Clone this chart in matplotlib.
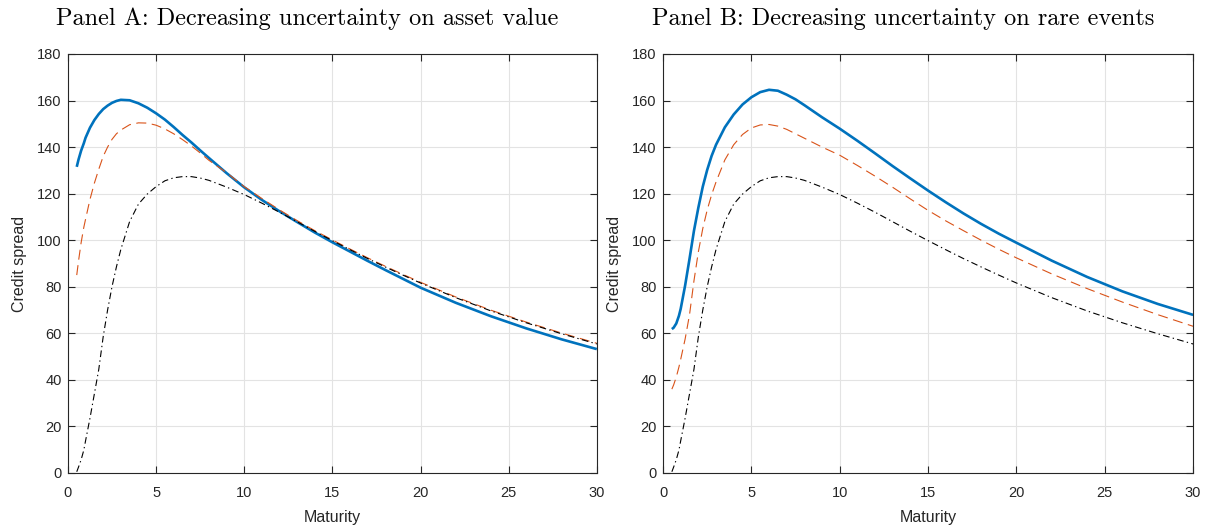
import matplotlib.pyplot as plt
import numpy as np

# maturities (years)
maturity = [0.5, 0.6, 0.75, 0.9, 1, 1.25, 1.5, 1.75, 2, 2.25, 2.5, 2.75, 3, 3.5, 4, 4.5, 5, 5.5,
            6, 6.5, 7, 7.5, 8, 9, 10, 11, 12, 13, 14, 15, 16, 17, 18, 19, 20,
            22, 24, 26, 28, 30]

# Panel A: decreasing uncertainty on asset value
a_high = [131.5, 134.6, 138.5, 141.6, 144, 148.3, 151.6, 154.2, 156.3, 157.8, 159, 159.8, 160.3, 160.1, 158.8, 156.9,
          154.5, 151.8, 148.6, 145.2, 142, 138.6, 135.3, 128.8, 122.7, 117.3, 112.4, 107.8, 103.3, 99.1, 95.1, 91.1,
          87.2, 83.4, 79.6, 73.1, 67.3, 62.1, 57.4, 53.2]
a_mid = [85, 91, 99, 105.5, 109, 117.5, 124.5, 130.5, 136, 140, 143.3, 145.7, 147.3, 149.6, 150.4, 150.3,
         149.4, 147.8, 145.7, 143.2, 140.5, 137.5, 134.3, 129, 123, 117.9, 113, 108.4, 104.1, 100.1, 96.2, 92.4,
         88.8, 85.3, 81.9, 75.6, 69.9, 64.8, 60.1, 55.7]

# baseline (no uncertainty), same in both panels
base = [0.5, 2.5, 5.7, 9.8, 13.8, 23.5, 34, 44.5, 58.5, 70, 80, 88.5, 96, 108, 115.5, 119.8,
        123, 125.5, 126.8, 127.3, 127.3, 126.7, 125.7, 122.8, 119.6, 115.9, 112, 107.9, 103.8, 99.8, 95.9, 92.1,
        88.5, 85, 81.6, 75.3, 69.6, 64.5, 59.8, 55.4]

# Panel B: decreasing uncertainty on rare events
b_high = [61.8, 62.4, 64.2, 67.5, 70.5, 80.5, 92, 104, 114, 123, 130.2, 136.2, 141, 148.5, 154, 158.3,
          161.4, 163.6, 164.6, 164.2, 162.5, 160.5, 158, 152.8, 147.9, 142.7, 137.3, 131.8, 126.5, 121.3, 116.3, 111.5,
          107, 102.8, 98.9, 91.2, 84.2, 78, 72.6, 67.9]
b_mid = [36, 37.8, 41.2, 45.5, 48.8, 57.5, 68, 82.5, 95, 105, 113, 119.5, 125, 134.5, 141, 145.4,
         148.2, 149.5, 149.7, 149, 147.6, 145.7, 143.8, 140, 136.5, 132.1, 127.5, 122.7, 117.7, 112.8, 108.3, 104.1,
         100, 96.1, 92.4, 85.5, 79.2, 73.4, 68, 63]

titles = ['Panel A: Decreasing uncertainty on asset value',
          'Panel B: Decreasing uncertainty on rare events']

plt.rcParams['font.family'] = ['Liberation Sans', 'DejaVu Sans']

fig = plt.figure(figsize=(12.13, 5.29), dpi=100)
ax1 = fig.add_axes([0.056, 0.106, 0.436, 0.792])
ax2 = fig.add_axes([0.5466, 0.106, 0.437, 0.792])

panels = [(ax1, a_high, a_mid), (ax2, b_high, b_mid)]
for i, (ax, hi, mid) in enumerate(panels):
    ax.plot(maturity, hi, color='#0072BD', lw=1.9, solid_capstyle='butt', solid_joinstyle='round')
    ax.plot(maturity, mid, color='#D95319', lw=0.8, dashes=(9, 5))
    ax.plot(maturity, base, color='black', lw=0.8, dashes=(6, 3, 1.2, 3))
    ax.set_xlim(0, 30)
    ax.set_ylim(0, 180)
    ax.set_xticks(np.arange(0, 31, 5))
    ax.set_yticks(np.arange(0, 181, 20))
    ax.grid(True, color='#e3e3e3', lw=0.8)
    ax.set_axisbelow(True)
    ax.tick_params(direction='in', top=True, right=True, length=5, width=0.8,
                   labelsize=10.5, colors='#262626')
    ax.tick_params(axis='x', pad=9.5)
    ax.tick_params(axis='y', pad=4.5)
    for s in ax.spines.values():
        s.set_color('#262626')
        s.set_linewidth(0.8)
    ax.set_xlabel('Maturity', fontsize=11.5, color='#262626', labelpad=7)
    ax.set_ylabel('Credit spread', fontsize=11.5, color='#262626', labelpad=7.5)
    ax.set_title(titles[i], fontsize=17.5, family='cmr10', pad=21, x=0.453)

fig.savefig('out.png', dpi=100)
